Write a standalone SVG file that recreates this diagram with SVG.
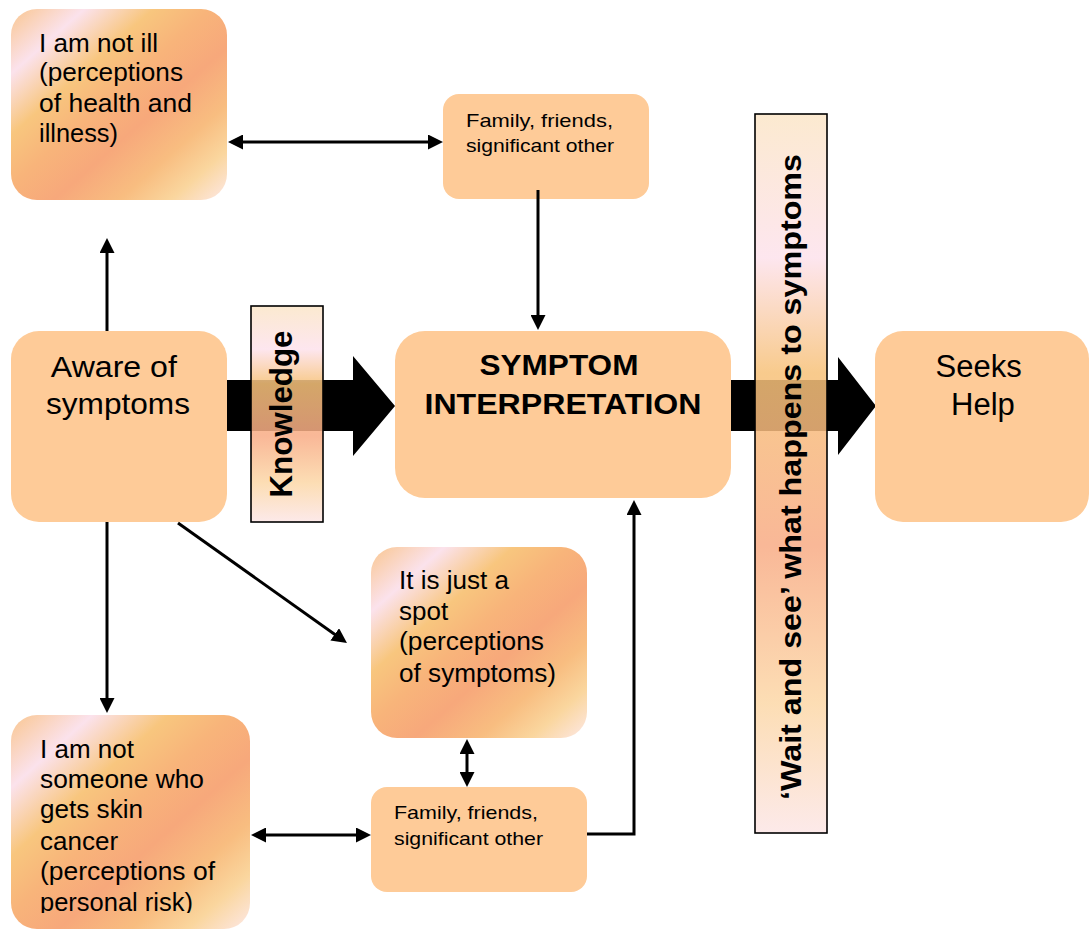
<svg xmlns="http://www.w3.org/2000/svg" width="1089" height="929" viewBox="0 0 1089 929">
  <style>
    .txt { font-family: "Liberation Sans", Arial, sans-serif; fill: #000; }
    .solid { fill: #fecb98; }
    .grad { fill: url(#sunset); }
    .bar { fill: url(#barFill); fill-opacity: 0.86; stroke: #000; stroke-width: 1.6; }
    .conn { fill: none; stroke: #000; stroke-width: 3; }
    .one { marker-end: url(#head); }
    .two { marker-start: url(#head); marker-end: url(#head); }
  </style>
  <defs>
    <linearGradient id="sunset" x1="0" y1="0" x2="1" y2="1">
      <stop offset="0" stop-color="#f9c690"/>
      <stop offset="0.17" stop-color="#fbe2ec"/>
      <stop offset="0.33" stop-color="#f8c67e"/>
      <stop offset="0.46" stop-color="#f8b47a"/>
      <stop offset="0.6" stop-color="#f7a87b"/>
      <stop offset="0.75" stop-color="#f8bd80"/>
      <stop offset="0.87" stop-color="#fad69e"/>
      <stop offset="1" stop-color="#fde8e6"/>
    </linearGradient>
    <linearGradient id="barFill" x1="0" y1="0" x2="0" y2="1">
      <stop offset="0" stop-color="#fbe6c8"/>
      <stop offset="0.2" stop-color="#fde2ec"/>
      <stop offset="0.36" stop-color="#f7c27a"/>
      <stop offset="0.6" stop-color="#f8ac86"/>
      <stop offset="0.82" stop-color="#fcd8a8"/>
      <stop offset="1" stop-color="#fce6e6"/>
    </linearGradient>
    <marker id="head" viewBox="0 0 15 15" markerWidth="15" markerHeight="15" markerUnits="userSpaceOnUse" refX="11" refY="7.5" orient="auto-start-reverse">
      <path d="M0,0 L15,7.5 L0,15 Z" fill="#000"/>
    </marker>
    <clipPath id="riskClip">
      <rect x="0" y="700" width="260" height="213"/>
    </clipPath>
  </defs>

  <!-- wide block arrows (drawn under the label bars) -->
  <g id="flow-arrows">
    <polygon points="227,380 353,380 353,356 395,406 353,456 353,431 227,431" fill="#000"/>
    <polygon points="731,380 838,380 838,357 876,406 838,455 838,431 731,431" fill="#000"/>
  </g>

  <g id="node-not-ill">
    <rect class="grad" x="11" y="9" width="216" height="191" rx="26"/>
    <text class="txt" font-size="26">
      <tspan x="39" y="52" textLength="119" lengthAdjust="spacingAndGlyphs">I am not ill</tspan>
      <tspan x="39" y="81" textLength="144" lengthAdjust="spacingAndGlyphs">(perceptions</tspan>
      <tspan x="39" y="112" textLength="153" lengthAdjust="spacingAndGlyphs">of health and</tspan>
      <tspan x="39" y="142" textLength="79" lengthAdjust="spacingAndGlyphs">illness)</tspan>
    </text>
  </g>

  <g id="node-family-top">
    <rect class="solid" x="443" y="94" width="206" height="105" rx="16"/>
    <text class="txt" font-size="19">
      <tspan x="466" y="127" textLength="147" lengthAdjust="spacingAndGlyphs">Family, friends,</tspan>
      <tspan x="466" y="152" textLength="148" lengthAdjust="spacingAndGlyphs">significant other</tspan>
    </text>
  </g>

  <g id="node-aware">
    <rect class="solid" x="11" y="331" width="216" height="191" rx="28"/>
    <text class="txt" font-size="30" text-anchor="middle">
      <tspan x="118" y="377" textLength="126" lengthAdjust="spacingAndGlyphs">Aware of</tspan>
      <tspan x="118" y="414" textLength="144" lengthAdjust="spacingAndGlyphs">symptoms</tspan>
    </text>
  </g>

  <g id="node-knowledge">
    <rect class="bar" x="251" y="306" width="72" height="216"/>
    <text class="txt" font-size="31" font-weight="bold" text-anchor="middle" transform="translate(292,414) rotate(-90)" textLength="167" lengthAdjust="spacingAndGlyphs">Knowledge</text>
  </g>

  <g id="node-interpretation">
    <rect class="solid" x="395" y="331" width="336" height="167" rx="30"/>
    <text class="txt" font-size="29" font-weight="bold" text-anchor="middle">
      <tspan x="563" y="375" textLength="159" lengthAdjust="spacingAndGlyphs">SYMPTOM</tspan>
      <tspan x="563" y="414" textLength="277" lengthAdjust="spacingAndGlyphs">INTERPRETATION</tspan>
    </text>
  </g>

  <g id="node-wait">
    <rect class="bar" x="755" y="114" width="72" height="719"/>
    <text class="txt" font-size="30" font-weight="bold" text-anchor="middle" transform="translate(801,477) rotate(-90)" textLength="646" lengthAdjust="spacingAndGlyphs">‘Wait and see’ what happens to symptoms</text>
  </g>

  <g id="node-seeks-help">
    <rect class="solid" x="875" y="331" width="214" height="191" rx="28"/>
    <text class="txt" font-size="31" text-anchor="middle">
      <tspan x="983" y="377">Seeks</tspan>
      <tspan x="983" y="415">Help</tspan>
    </text>
  </g>

  <g id="node-just-spot">
    <rect class="grad" x="371" y="547" width="216" height="191" rx="26"/>
    <text class="txt" font-size="26">
      <tspan x="399" y="589" textLength="110" lengthAdjust="spacingAndGlyphs">It is just a</tspan>
      <tspan x="399" y="620">spot</tspan>
      <tspan x="399" y="650" textLength="145" lengthAdjust="spacingAndGlyphs">(perceptions</tspan>
      <tspan x="399" y="682" textLength="157" lengthAdjust="spacingAndGlyphs">of symptoms)</tspan>
    </text>
  </g>

  <g id="node-family-bottom">
    <rect class="solid" x="371" y="787" width="216" height="105" rx="16"/>
    <text class="txt" font-size="19">
      <tspan x="394" y="819" textLength="144" lengthAdjust="spacingAndGlyphs">Family, friends,</tspan>
      <tspan x="394" y="845" textLength="149" lengthAdjust="spacingAndGlyphs">significant other</tspan>
    </text>
  </g>

  <g id="node-not-someone">
    <rect class="grad" x="11" y="715" width="239" height="214" rx="26"/>
    <text class="txt" font-size="26" clip-path="url(#riskClip)">
      <tspan x="40" y="758">I am not</tspan>
      <tspan x="40" y="788" textLength="164" lengthAdjust="spacingAndGlyphs">someone who</tspan>
      <tspan x="40" y="818" textLength="103" lengthAdjust="spacingAndGlyphs">gets skin</tspan>
      <tspan x="40" y="850">cancer</tspan>
      <tspan x="40" y="880" textLength="175" lengthAdjust="spacingAndGlyphs">(perceptions of</tspan>
      <tspan x="40" y="911" textLength="153" lengthAdjust="spacingAndGlyphs">personal risk)</tspan>
    </text>
  </g>

  <g id="connectors">
    <line class="conn one" x1="107" y1="331" x2="107" y2="242"/>
    <line class="conn two" x1="232" y1="142" x2="439" y2="142"/>
    <line class="conn one" x1="538" y1="190" x2="538" y2="326"/>
    <line class="conn one" x1="107" y1="522" x2="107" y2="709"/>
    <line class="conn one" x1="178" y1="523" x2="343.7" y2="640.7"/>
    <line class="conn two" x1="467" y1="743" x2="467" y2="783"/>
    <line class="conn two" x1="255" y1="835" x2="367" y2="835"/>
    <polyline class="conn one" points="587,834 634,834 634,504"/>
  </g>
</svg>
